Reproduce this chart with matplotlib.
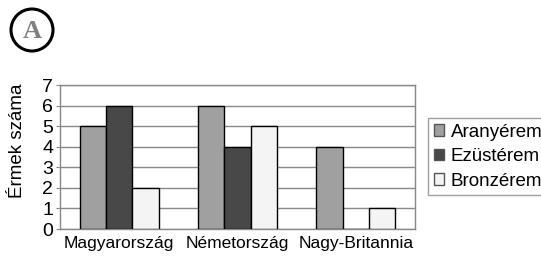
import matplotlib
matplotlib.use("Agg")
import matplotlib.pyplot as plt
import numpy as np
from matplotlib.patches import Ellipse

categories = ["Magyarország", "Németország", "Nagy-Britannia"]
series_names = ["Aranyérem", "Ezüstérem", "Bronzérem"]
arany = [5, 6, 4]
ezust = [6, 4, 0]
bronz = [2, 5, 1]
yticks = [0, 1, 2, 3, 4, 5, 6, 7]

colors = ["#a0a0a0", "#484848", "#f4f4f4"]

plt.rcParams['font.family'] = ['Liberation Sans', 'DejaVu Sans']

W, H = 541, 260
fig = plt.figure(figsize=(W/100, H/100), dpi=100)
ax = fig.add_axes([60/W, 1-229/H, 355/W, 144/H])

x = np.arange(len(categories))
w = 0.223
for i, (vals, c, n) in enumerate(zip([arany, ezust, bronz], colors, series_names)):
    ax.bar(x + (i-1)*w, vals, w, color=c, edgecolor="black", linewidth=1.0, label=n, zorder=3)

ax.set_xlim(-0.5, 2.5)
ax.set_ylim(0, 7)
ax.set_yticks(yticks)
ax.set_yticklabels([str(t) for t in yticks], fontsize=14)
ax.set_xticks(x)
ax.set_xticklabels(categories, fontsize=12.5)
ax.tick_params(axis='x', length=0, pad=5)
ax.tick_params(axis='y', length=3, color="#888888", pad=2)
ax.grid(axis='y', color="#888888", linewidth=1.0, zorder=0)
for s in ax.spines.values():
    s.set_color("#888888")
    s.set_linewidth(1.0)
fig.text(18/W, 1-141/H, "Érmek száma", rotation=90, ha="center", va="center", fontsize=13.5)

handles, labels = ax.get_legend_handles_labels()
leg = fig.legend(handles, labels, loc="upper left", bbox_to_anchor=(428/W, 1-118/H),
                 bbox_transform=fig.transFigure, fontsize=13.5,
                 frameon=True, fancybox=False, edgecolor="#888888", handlelength=0.55,
                 handleheight=0.55, handletextpad=0.35, borderpad=0.3, labelspacing=0.4,
                 borderaxespad=0)
leg.get_frame().set_linewidth(1.0)
for p in leg.get_patches():
    p.set_edgecolor("#555555")

circ = Ellipse((32/W, 1-30/H), 42/W, 42/H, transform=fig.transFigure, fill=False,
               edgecolor="black", linewidth=2.2)
fig.patches.append(circ)
fig.text(32.5/W, 1-31/H, "A", ha="center", va="center", fontsize=19,
         fontweight="bold", color="#808080", family="Liberation Serif")

fig.savefig("out.png", dpi=100)
